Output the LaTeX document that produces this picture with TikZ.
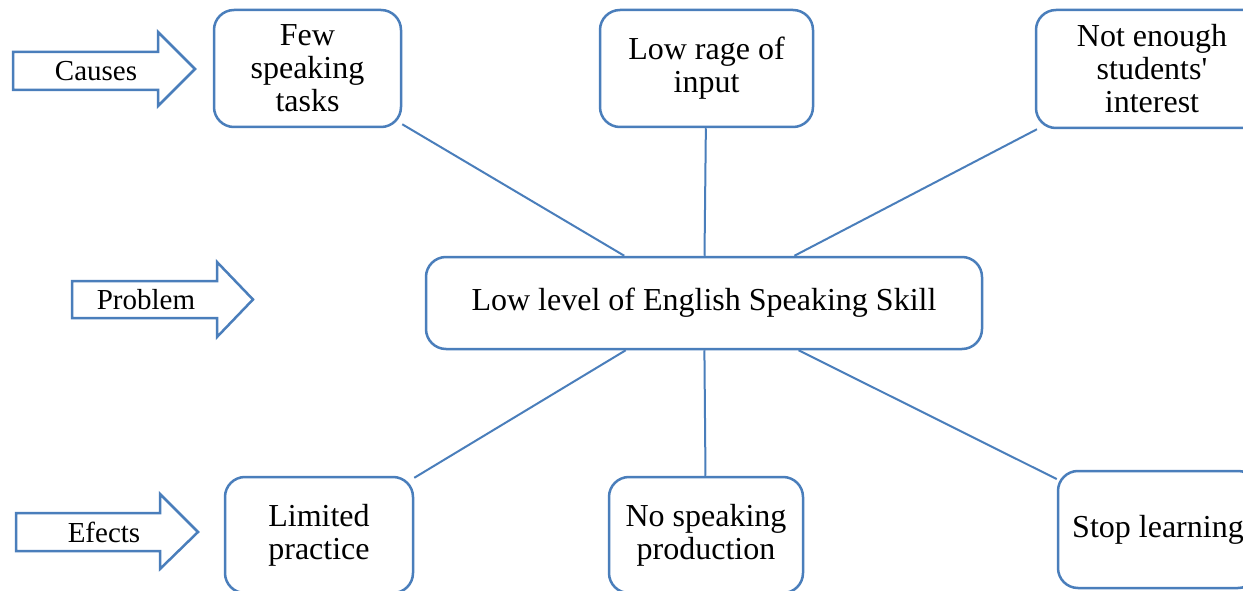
\documentclass[tikz,border=0pt]{standalone}
\usepackage{fontspec}
\setmainfont{Liberation Serif}
\definecolor{wblue}{RGB}{74,126,187}
\begin{document}
\begin{tikzpicture}[x=1pt,y=-1pt,
  txt/.style={font=\fontsize{29}{33}\selectfont},
  btxt/.style={font=\fontsize{32}{33}\selectfont},
  boxnode/.style={draw=wblue,line width=2.5pt,rounded corners=20pt,fill=white,
    align=center,btxt,inner sep=0pt},
  blockarrow/.style={draw=wblue,line width=2.5pt,fill=white,line join=miter},
  link/.style={draw=wblue,line width=2pt}]
\useasboundingbox (0,0) rectangle (1243,591);
\clip (0,0) rectangle (1243,591);
\fill[white] (0,0) rectangle (1243,591);

% central problem
\node[boxnode,minimum width=556pt,minimum height=92pt] (c) at (704,303) {Low level of English Speaking Skill};

% causes
\node[boxnode,minimum width=187pt,minimum height=117pt] (few) at (307.5,68.5) {Few\\speaking\\tasks};
\node[boxnode,minimum width=213pt,minimum height=117pt] (rage) at (706.5,68.5) {Low rage of\\input};
\node[boxnode,minimum width=232pt,minimum height=118pt] (nei) at (1152,69) {Not enough\\students\textquotesingle\\interest};

% effects
\node[boxnode,minimum width=188pt,minimum height=116pt] (lim) at (319,535) {Limited\\practice};
\node[boxnode,minimum width=194pt,minimum height=116pt] (nsp) at (706,535) {No speaking\\production};
\node[boxnode,minimum width=200pt,minimum height=117pt] (stop) at (1158,529.5) {Stop learning};

% connectors
\draw[link] (few) -- (c);
\draw[link] (rage) -- (c);
\draw[link] (nei) -- (c);
\draw[link] (lim) -- (c);
\draw[link] (nsp) -- (c);
\draw[link] (stop) -- (c);

% block arrows
\draw[blockarrow] (13,52) -- (158,52) -- (158,32) -- (195,69) -- (158,106) -- (158,90) -- (13,90) -- cycle;
\node[txt,inner sep=0pt] (causes) at (96,71) {Causes};

\draw[blockarrow] (72,281) -- (217,281) -- (217,262) -- (253,299.5) -- (217,337) -- (217,318) -- (72,318) -- cycle;
\node[txt,inner sep=0pt] (problem) at (146,300) {Problem};

\draw[blockarrow] (16,513) -- (160,513) -- (160,494) -- (198,532) -- (160,569) -- (160,551) -- (16,551) -- cycle;
\node[txt,inner sep=0pt] (efects) at (104,532) {Efects};
\end{tikzpicture}
\end{document}
